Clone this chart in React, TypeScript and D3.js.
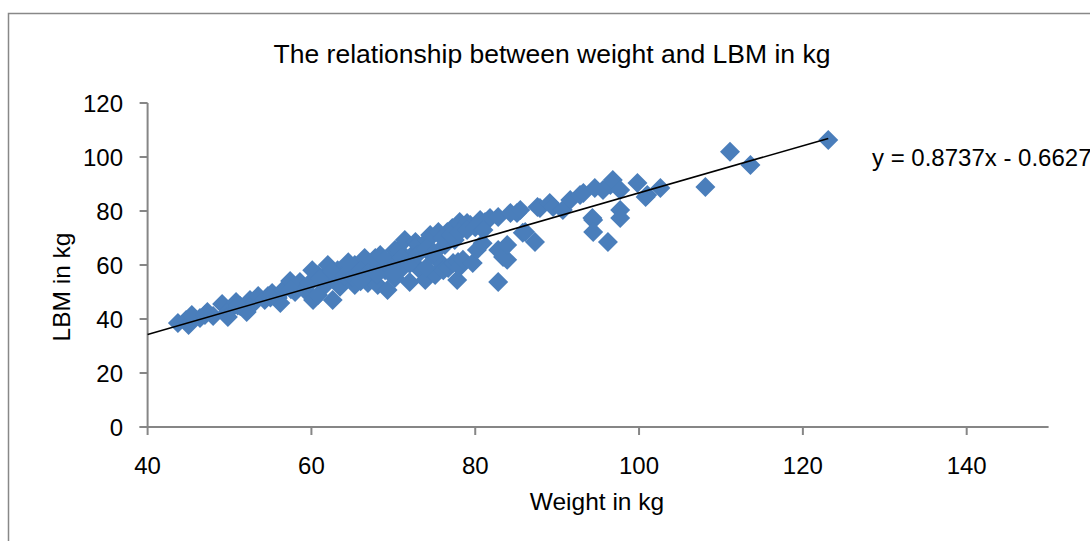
import React from "react";
import * as d3 from "d3";

// Body weight (kg) of each subject
const weight = [
  43.7, 44.7, 45.0, 45.4, 46.4, 47.3, 48.0, 49.1, 49.8, 49.8, 50.8, 51.3, 51.9, 52.1, 52.5, 53.1, 53.5, 54.3, 54.7,
  55.2, 55.9, 56.2, 56.6, 56.8, 57.4, 58.0, 58.6, 58.6, 59.2, 59.8, 60.1, 60.2, 60.8, 60.8, 61.3, 61.7, 62.0, 62.5,
  62.6, 63.2, 63.5, 63.5, 64.1, 64.7, 65.3, 65.3, 65.9, 66.5, 66.9, 67.4, 67.8, 68.1, 68.4, 69.0, 69.3, 69.8, 70.2,
  70.2, 70.6, 71.1, 71.4, 72.0, 72.3, 72.7, 73.0, 73.3, 73.9, 74.2, 74.5, 74.7, 75.1, 75.5, 75.7, 76.1, 76.3, 76.6,
  76.7, 77.2, 77.3, 77.5, 77.5, 77.8, 77.9, 78.1, 78.1, 78.5, 79.0, 79.4, 79.7, 80.2, 80.6, 80.9, 81.2, 81.8, 82.8,
  82.8, 82.8, 83.4, 83.9, 83.9, 84.3, 85.1, 85.5, 85.8, 86.1, 87.3, 87.6, 87.9, 89.1, 89.5, 90.7, 91.6, 92.8, 93.2,
  94.3, 94.4, 94.4, 94.6, 95.6, 96.2, 96.5, 96.8, 97.7, 97.7, 97.7, 99.8, 100.8, 101.0, 102.6, 108.1, 111.1, 113.6,
  123.1, 61.0, 62.5, 64.0, 65.0, 66.0, 67.0, 68.0, 69.0, 70.0, 71.0, 72.0, 73.0, 74.0, 75.0, 76.0, 77.0, 78.0,
  79.0, 80.0, 81.0, 66.0, 70.0, 74.0, 64.5, 47.0, 51.0, 55.0, 57.5,
];

// Lean body mass (kg) of each subject
const lbm = [
  38.5, 39.6, 37.8, 41.5, 40.4, 42.6, 41.1, 45.6, 42.6, 40.7, 46.3, 44.8, 44.1, 42.6, 47.0, 46.3, 48.5, 47.0, 48.5,
  49.6, 47.8, 45.9, 50.7, 51.5, 54.1, 50.0, 52.6, 53.7, 50.7, 53.3, 58.1, 47.0, 56.3, 48.9, 55.2, 52.6, 60.0, 55.2,
  47.0, 58.1, 51.9, 57.4, 54.4, 58.9, 52.6, 60.0, 56.3, 62.6, 53.3, 60.0, 62.6, 52.6, 63.7, 58.1, 50.7, 61.9, 55.2,
  65.6, 65.6, 58.9, 69.3, 53.7, 63.7, 68.5, 67.4, 58.1, 54.4, 69.3, 71.1, 63.7, 56.3, 72.2, 61.1, 58.1, 67.4, 72.2,
  58.9, 73.7, 60.7, 69.3, 73.7, 54.4, 61.1, 75.9, 59.3, 61.9, 75.6, 74.8, 60.7, 65.6, 76.7, 68.1, 75.9, 77.4, 77.8,
  65.6, 53.7, 63.0, 61.9, 67.4, 79.3, 79.3, 80.4, 71.9, 72.2, 68.5, 81.5, 81.1, 83.0, 81.5, 80.4, 84.1, 85.9, 86.7,
  77.4, 76.7, 72.2, 88.5, 87.8, 68.5, 89.6, 91.5, 87.8, 80.4, 77.4, 90.4, 85.2, 85.9, 88.5, 88.9, 101.9, 97.0,
  106.3, 55.0, 57.5, 56.0, 55.5, 58.0, 57.0, 56.5, 62.0, 60.0, 62.5, 60.5, 64.0, 66.0, 64.5, 70.0, 71.0, 72.0,
  73.0, 74.0, 73.0, 54.0, 57.0, 59.0, 61.0, 41.5, 45.0, 48.0, 51.0,
];

const xTicks = [40, 60, 80, 100, 120, 140];
const yTicks = [0, 20, 40, 60, 80, 100, 120];

// Linear trendline coefficients
const slope = 0.8737;
const intercept = -0.6627;

const title = "The relationship between weight and LBM in kg";
const xTitle = "Weight in kg";
const yTitle = "LBM in kg";
const equation = "y = 0.8737x - 0.6627";

const W = 1090;
const H = 541;
const plot = { left: 147.6, right: 1048.6, top: 103, bottom: 427 };
const FONT = "'Liberation Sans', Arial, sans-serif";
const AXIS = "#868686";
const MARK = "#4a7ebb";

export default function App() {
  const x = d3.scaleLinear().domain([40, 150]).range([plot.left, plot.right]);
  const y = d3.scaleLinear().domain([0, 120]).range([plot.bottom, plot.top]);

  const points = weight.map((w, i) => ({ w, l: lbm[i] }));
  const xMin = 40;
  const xMax = d3.max(weight) as number;
  const trend = d3.line<number>()
    .x((d) => x(d))
    .y((d) => y(slope * d + intercept))([xMin, xMax]);

  const r = 10;
  const diamond = `M0,${-r}L${r},0L0,${r}L${-r},0Z`;

  return (
    <svg
      width={W}
      height={H}
      style={{ position: "absolute", left: 0, top: 0, background: "#fff" }}
      fontFamily={FONT}
    >
      <rect x={8.5} y={13.5} width={W + 20} height={H + 20} fill="#fff" stroke="#888" strokeWidth={1.5} />

      <text x={552} y={63} textAnchor="middle" fontSize={26.5} fill="#000">
        {title}
      </text>

      {/* y axis */}
      <line x1={plot.left} x2={plot.left} y1={plot.top} y2={plot.bottom} stroke={AXIS} strokeWidth={2} />
      {yTicks.map((t) => (
        <g key={`y${t}`}>
          <line x1={plot.left - 8} x2={plot.left} y1={y(t)} y2={y(t)} stroke={AXIS} strokeWidth={2} />
          <text x={123} y={y(t)} dy="0.36em" textAnchor="end" fontSize={24} fill="#000">
            {t}
          </text>
        </g>
      ))}

      {/* x axis */}
      <line x1={plot.left - 8} x2={plot.right} y1={plot.bottom} y2={plot.bottom} stroke={AXIS} strokeWidth={2} />
      {xTicks.map((t) => (
        <g key={`x${t}`}>
          <line x1={x(t)} x2={x(t)} y1={plot.bottom} y2={plot.bottom + 8} stroke={AXIS} strokeWidth={2} />
          <text x={x(t)} y={474} textAnchor="middle" fontSize={24} fill="#000">
            {t}
          </text>
        </g>
      ))}

      <text x={597} y={510} textAnchor="middle" fontSize={24.5} fill="#000">
        {xTitle}
      </text>
      <text
        transform={`translate(70,${287}) rotate(-90)`}
        textAnchor="middle"
        fontSize={24.5}
        fill="#000"
      >
        {yTitle}
      </text>

      {/* markers */}
      {points.map((p, i) => (
        <path key={i} d={diamond} transform={`translate(${x(p.w)},${y(p.l)})`} fill={MARK} />
      ))}

      {/* trendline */}
      <path d={trend || ""} fill="none" stroke="#000" strokeWidth={1.6} />

      <text x={872} y={166} fontSize={24} fill="#000">
        {equation}
      </text>
    </svg>
  );
}
